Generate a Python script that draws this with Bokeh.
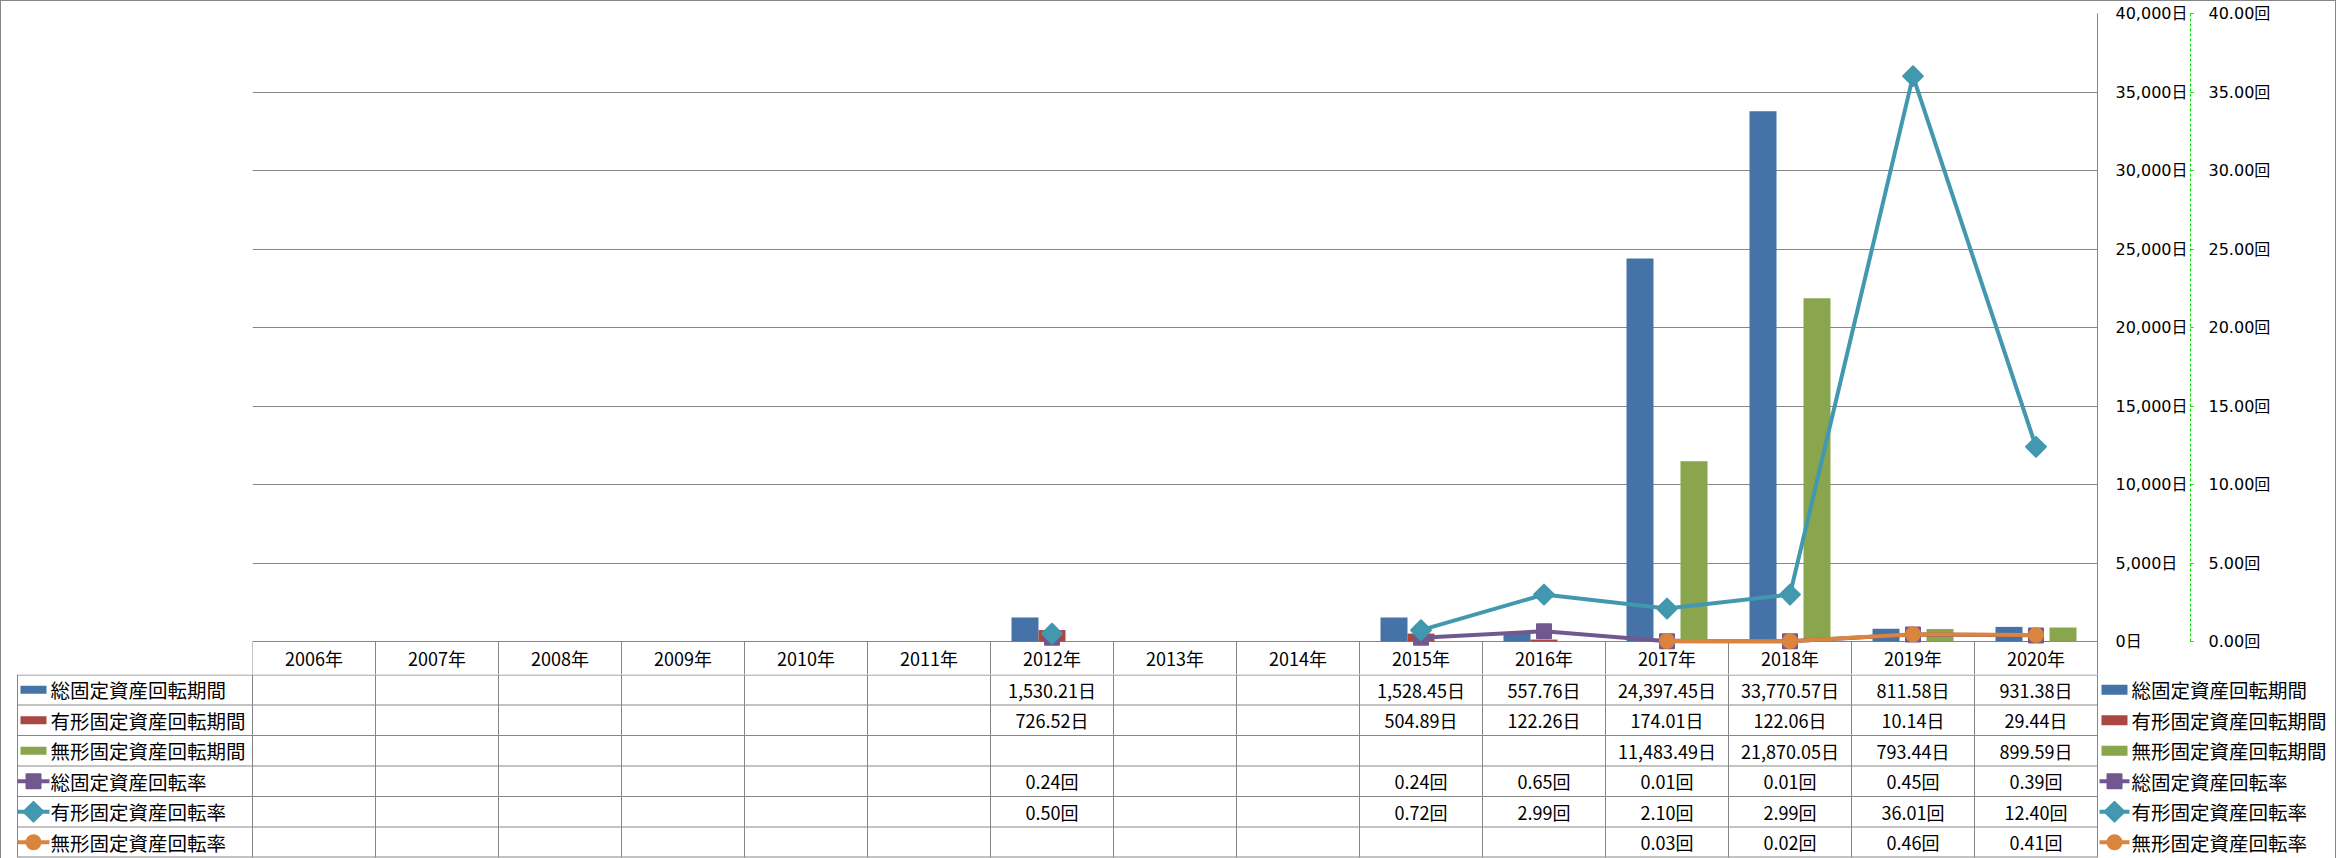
import math
from bokeh.plotting import figure
from bokeh.models import FactorRange, Range1d, LinearAxis, FixedTicker, ColumnDataSource
from bokeh.transform import dodge
from bokeh.layouts import column
from bokeh.embed import file_html
from bokeh.resources import INLINE
from bokeh.core.properties import value

# ---------------- data ----------------
years = ["2006年", "2007年", "2008年", "2009年", "2010年", "2011年", "2012年", "2013年",
         "2014年", "2015年", "2016年", "2017年", "2018年", "2019年", "2020年"]

total_days = [None, None, None, None, None, None, 1530.21, None, None, 1528.45, 557.76,
              24397.45, 33770.57, 811.58, 931.38]
tangible_days = [None, None, None, None, None, None, 726.52, None, None, 504.89, 122.26,
                 174.01, 122.06, 10.14, 29.44]
intangible_days = [None, None, None, None, None, None, None, None, None, None, None,
                   11483.49, 21870.05, 793.44, 899.59]
total_rate = [None, None, None, None, None, None, 0.24, None, None, 0.24, 0.65,
              0.01, 0.01, 0.45, 0.39]
tangible_rate = [None, None, None, None, None, None, 0.50, None, None, 0.72, 2.99,
                 2.10, 2.99, 36.01, 12.40]
intangible_rate = [None, None, None, None, None, None, None, None, None, None, None,
                   0.03, 0.02, 0.46, 0.41]

names = ["総固定資産回転期間", "有形固定資産回転期間", "無形固定資産回転期間",
         "総固定資産回転率", "有形固定資産回転率", "無形固定資産回転率"]
colors = ["#4572A7", "#AA4643", "#89A54E", "#71588F", "#4198AF", "#DB843D"]

day_ticks = [0, 5000, 10000, 15000, 20000, 25000, 30000, 35000, 40000]
rate_ticks = [0, 5, 10, 15, 20, 25, 30, 35, 40]

day_series = [total_days, tangible_days, intangible_days]
rate_series = [total_rate, tangible_rate, intangible_rate]
markers = ["square", "square", "circle"]
angles = [0, math.pi / 4, 0]

GRID = "#868686"
CJK = "Noto Sans CJK JP"
AXFONT = "DejaVu Sans, Noto Sans CJK JP"

# layout (pixels)
plot_top, zero_y, head_bot, table_bot = 13, 641, 674, 857
plot_left, plot_right = 252, 2097
legend_left = 17

day_max = day_ticks[-1]
rate_max = rate_ticks[-1]
px_per_day = (zero_y - plot_top) / day_max
head_days = (head_bot - zero_y) / px_per_day          # header row below zero, in day units
head_rate = head_days * rate_max / day_max

# ---------------- chart (with header row of the table) ----------------
p = figure(width=2334, height=head_bot - 1,
           x_range=FactorRange(factors=years, range_padding=0),
           y_range=Range1d(-head_days, day_max),
           x_axis_location=None, y_axis_location="right",
           output_backend="svg", toolbar_location=None,
           min_border_left=plot_left - 1, min_border_right=2335 - plot_right,
           min_border_top=plot_top - 1, min_border_bottom=0)
p.frame_align = False
p.extra_y_ranges = {"rate": Range1d(-head_rate, rate_max)}
p.outline_line_color = None
p.xgrid.visible = False
p.ygrid.ticker = FixedTicker(ticks=day_ticks)
p.ygrid.grid_line_color = GRID
p.ygrid.grid_line_width = 1
p.background_fill_color = "white"
p.border_fill_color = "white"

ax = p.yaxis[0]
ax.ticker = FixedTicker(ticks=day_ticks)
ax.major_label_overrides = {t: f"{t:,}日" for t in day_ticks}
ax.axis_line_color = GRID
ax.major_tick_out = 0
ax.major_tick_in = 0
ax.minor_tick_out = 0
ax.minor_tick_in = 0
ax.major_label_standoff = 18
ax.major_label_text_font = AXFONT
ax.major_label_text_font_size = "16px"
ax.major_label_text_color = "#000000"

ax2 = LinearAxis(y_range_name="rate", ticker=FixedTicker(ticks=rate_ticks))
ax2.bounds = (0, rate_max)
ax2.major_label_overrides = {t: f"{t:.2f}回" for t in rate_ticks}
ax2.axis_line_color = "#00DD00"
ax2.axis_line_dash = "3 2"
ax2.axis_line_width = 1
ax2.major_tick_out = 3
ax2.major_tick_in = 0
ax2.major_tick_line_color = "#00DD00"
ax2.minor_tick_out = 0
ax2.minor_tick_in = 0
ax2.major_label_standoff = 15
ax2.major_label_text_font = AXFONT
ax2.major_label_text_font_size = "16px"
ax2.major_label_text_color = "#000000"
p.add_layout(ax2, "right")

bar_w = 27 / 123
offsets = [-bar_w, 0.0, bar_w]
for vals, off, c in zip(day_series, offsets, colors[:3]):
    xs = [y for y, v in zip(years, vals) if v is not None]
    tops = [v for v in vals if v is not None]
    src = ColumnDataSource(dict(x=xs, top=tops))
    p.vbar(x=dodge("x", off, range=p.x_range), top="top", width=bar_w,
           source=src, fill_color=c, line_color=None)

# header row: column separators and year labels
sep = ColumnDataSource(dict(x=years, y0=[-head_days] * len(years), y1=[0] * len(years)))
p.segment(x0=dodge("x", -0.5, range=p.x_range), y0="y0", x1=dodge("x", -0.5, range=p.x_range),
          y1="y1", source=sep, line_color=GRID, line_width=1)
p.text(x=years, y=[-head_days / 2] * len(years), text=years, text_align="center",
       text_baseline="middle", text_font=value(CJK), text_font_size="18px", text_color="#000000")

for vals, c, m, a in zip(rate_series, colors[3:], markers, angles):
    ys = [float("nan") if v is None else v for v in vals]
    p.line(x=years, y=ys, y_range_name="rate", line_width=4, line_color=c,
           line_join="round")
    xs = [y for y, v in zip(years, vals) if v is not None]
    yv = [v for v in vals if v is not None]
    p.scatter(x=xs, y=yv, y_range_name="rate", marker=m, angle=a,
              size=14, fill_color=c, line_color=c,
              line_width=2, line_join="round")

# ---------------- data table body ----------------
col_w = (plot_right - plot_left) / len(years)
row_h = (table_bot - head_bot) / len(names)

t = figure(width=2334, height=table_bot + 1 - head_bot,
           x_range=Range1d(1, 2335), y_range=Range1d(table_bot + 1, head_bot),
           x_axis_location=None, y_axis_location=None,
           min_border=0, min_border_left=0, min_border_right=0,
           min_border_top=0, min_border_bottom=0,
           output_backend="svg", toolbar_location=None)
t.frame_align = False
t.outline_line_color = None
t.xgrid.visible = False
t.ygrid.visible = False
t.background_fill_color = "white"
t.border_fill_color = "white"

hx0, hx1, hy0, hy1 = [], [], [], []
for k in range(len(names) + 1):
    yy = head_bot + k * row_h
    if k == 0:
        yy += 0.5
    if k == len(names):
        yy -= 0.5
    hx0.append(legend_left); hx1.append(plot_right); hy0.append(yy); hy1.append(yy)
t.segment(x0=hx0, y0=hy0, x1=hx1, y1=hy1, line_color=GRID, line_width=1)
vx = [plot_left + i * col_w for i in range(len(years) + 1)] + [legend_left]
t.segment(x0=vx, y0=[head_bot] * len(vx), x1=vx, y1=[table_bot] * len(vx),
          line_color=GRID, line_width=1)

centers = [plot_left + col_w * (i + 0.5) for i in range(len(years))]
all_series = day_series + rate_series
units = ["日", "日", "日", "回", "回", "回"]
for r, (vals, u) in enumerate(zip(all_series, units)):
    yc = head_bot + row_h * (r + 0.5)
    xs = [cx for cx, v in zip(centers, vals) if v is not None]
    labels = [f"{v:,.2f}{u}" for v in vals if v is not None]
    t.text(x=xs, y=[yc] * len(xs), text=labels, text_align="center", text_baseline="middle",
           text_font=value(CJK), text_font_size="18px", text_color="#000000")

row_centers = [head_bot + row_h * (r + 0.5) for r in range(len(names))]
for lx_text in (50, 2131):
    t.text(x=[lx_text] * len(names), y=row_centers, text=names, text_align="left",
           text_baseline="middle", text_font=value(CJK), text_font_size="19.5px",
           text_color="#000000")

for (lx, sw, sh, l0, l1) in [(33, 26, 8, 17, 49), (2114, 26, 10, 2099, 2129)]:
    t.rect(x=[lx] * 3, y=row_centers[:3], width=sw, height=sh, fill_color=colors[:3], line_color=None)
    t.segment(x0=[l0] * 3, y0=row_centers[3:], x1=[l1] * 3, y1=row_centers[3:],
              line_color=colors[3:], line_width=4)
    for r, (c, m, a) in enumerate(zip(colors[3:], markers, angles)):
        t.scatter(x=[lx], y=[row_centers[3 + r]], marker=m, angle=a, size=14,
                  fill_color=c, line_color=c, line_width=2, line_join="round")

layout = column(p, t, styles={"border": "1px solid #868686"})

open("out.html", "w").write(file_html(layout, INLINE))
